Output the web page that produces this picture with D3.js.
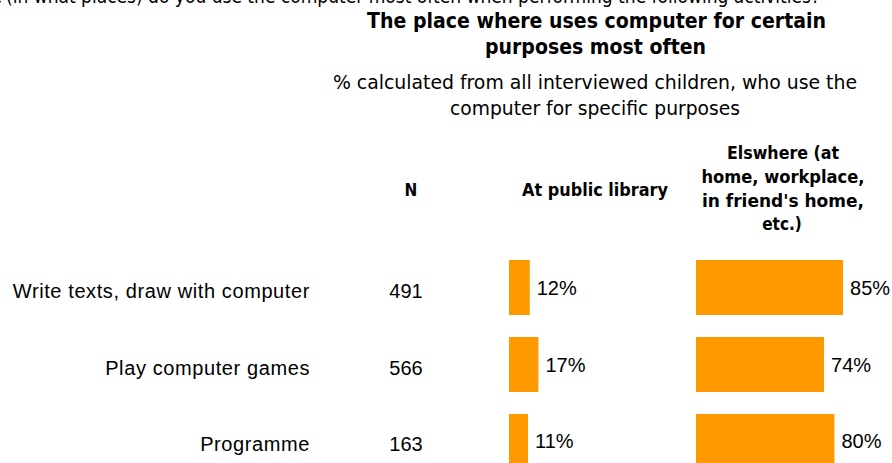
<!DOCTYPE html>
<html>
<head>
<meta charset="utf-8">
<script src="https://cdn.jsdelivr.net/npm/d3@7/dist/d3.min.js"></script>
<style>
  html, body { margin: 0; padding: 0; background: #fff; }
  svg { display: block; }
  .cond { font-family: "DejaVu Sans Condensed", "DejaVu Sans", sans-serif; font-stretch: condensed; }
  .arial { font-family: "Liberation Sans", Arial, sans-serif; }
</style>
</head>
<body>
<svg id="chart" width="892" height="463"></svg>
<script>
// Activities and respondent counts
const activities = ["Write texts, draw with computer", "Play computer games", "Programme"];
const counts = [491, 566, 163];

// Share (%) using the computer at each place
const libraryShare = [12, 17, 11];
const elsewhereShare = [85, 74, 80];

// Text blocks
const questionText = "(in what places) do you use the computer most often when performing the following activities?";
const titleLines = ["The place where uses computer for certain", "purposes most often"];
const subtitleLines = ["% calculated from all interviewed children, who use the", "computer for specific purposes"];
const headerN = "N";
const headerLibrary = "At public library";
const headerElsewhere = ["Elswhere (at", "home, workplace,", "in friend's home,", "etc.)"];

const ORANGE = "#FF9900";
const svg = d3.select("#chart");

// Row positions
const y = d3.scaleBand()
  .domain(activities)
  .range([260, 469])
  .paddingInner(0.2857)
  .paddingOuter(0);

// Bar length per percentage point (shared by both columns)
const x = d3.scaleLinear().domain([0, 100]).range([0, 173]);
const libX0 = 509;
const elseX0 = 696;

// Question line, running past the top edge
svg.append("text").attr("class", "cond")
  .attr("x", 2).attr("y", 3).attr("text-anchor", "end")
  .attr("font-size", 20).attr("fill", "#000")
  .text("Where");
svg.append("text").attr("class", "cond")
  .attr("x", 6).attr("y", 3)
  .attr("font-size", 20).attr("fill", "#000")
  .attr("textLength", 814).attr("lengthAdjust", "spacingAndGlyphs")
  .text(questionText);

// Title
const titleSpec = [
  { x: 367, y: 28, w: 459 },
  { x: 485, y: 54, w: 221 }
];
titleLines.forEach((t, i) => {
  svg.append("text").attr("class", "cond")
    .attr("x", titleSpec[i].x).attr("y", titleSpec[i].y)
    .attr("font-size", 21).attr("font-weight", "bold").attr("fill", "#000")
    .attr("textLength", titleSpec[i].w).attr("lengthAdjust", "spacingAndGlyphs")
    .text(t);
});

// Subtitle
const subSpec = [
  { x: 333, y: 89, w: 524 },
  { x: 450, y: 115, w: 290 }
];
subtitleLines.forEach((t, i) => {
  svg.append("text").attr("class", "cond")
    .attr("x", subSpec[i].x).attr("y", subSpec[i].y)
    .attr("font-size", 20).attr("fill", "#000")
    .attr("textLength", subSpec[i].w).attr("lengthAdjust", "spacingAndGlyphs")
    .text(t);
});

// Column headers
svg.append("text").attr("class", "cond")
  .attr("x", 411).attr("y", 196).attr("text-anchor", "middle")
  .attr("font-size", 17).attr("font-weight", "bold")
  .text(headerN);
svg.append("text").attr("class", "cond")
  .attr("x", 522).attr("y", 196)
  .attr("font-size", 17).attr("font-weight", "bold")
  .attr("textLength", 146).attr("lengthAdjust", "spacingAndGlyphs")
  .text(headerLibrary);
const elseWidths = [112, 163, 162, null];
const elseBase = [159, 183, 206.5, 230];
headerElsewhere.forEach((t, i) => {
  const el = svg.append("text").attr("class", "cond")
    .attr("y", elseBase[i])
    .attr("font-size", 17).attr("font-weight", "bold")
    .text(t);
  if (elseWidths[i]) {
    el.attr("x", 783 - elseWidths[i] / 2)
      .attr("textLength", elseWidths[i]).attr("lengthAdjust", "spacingAndGlyphs");
  } else {
    el.attr("x", 782).attr("text-anchor", "middle");
  }
});

const rows = activities.map((a, i) => ({
  activity: a, n: counts[i], lib: libraryShare[i], els: elsewhereShare[i]
}));

const cy = d => y(d.activity) + y.bandwidth() / 2;

// Category labels
svg.append("g").selectAll("text").data(rows).join("text")
  .attr("class", "arial")
  .attr("x", 310).attr("y", d => cy(d) + 10)
  .attr("text-anchor", "end").attr("font-size", 20)
  .attr("letter-spacing", "0.6px")
  .text(d => d.activity);

// N values
svg.append("g").selectAll("text").data(rows).join("text")
  .attr("class", "arial")
  .attr("x", 406).attr("y", d => cy(d) + 10)
  .attr("text-anchor", "middle").attr("font-size", 20)
  .text(d => d.n);

// Bars + value labels for both columns
function column(x0, key) {
  const g = svg.append("g");
  g.selectAll("rect").data(rows).join("rect")
    .attr("x", x0).attr("y", d => y(d.activity))
    .attr("width", d => x(d[key])).attr("height", y.bandwidth())
    .attr("fill", ORANGE);
  g.selectAll("text").data(rows).join("text")
    .attr("class", "arial")
    .attr("x", d => x0 + x(d[key]) + 7).attr("y", d => cy(d) + 7)
    .attr("font-size", 20).attr("fill", "#000")
    .text(d => d[key] + "%");
}
column(libX0, "lib");
column(elseX0, "els");
</script>
</body>
</html>
